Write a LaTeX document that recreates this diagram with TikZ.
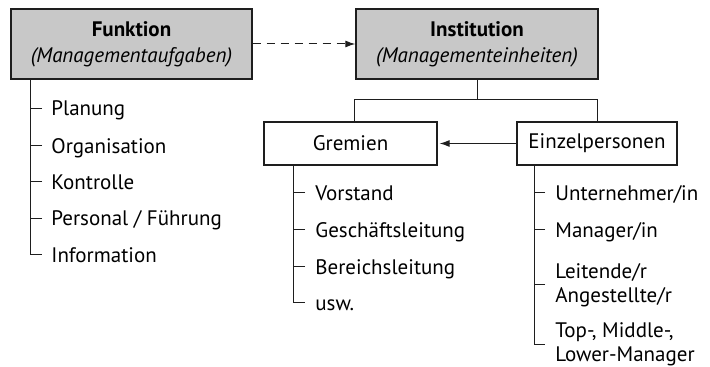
\documentclass[tikz,border=0pt]{standalone}
\usepackage{fontspec}
\setmainfont{PT Sans}
\usetikzlibrary{arrows.meta}
\definecolor{headfill}{RGB}{200,200,200}
\definecolor{linec}{RGB}{30,30,30}
\begin{document}
\begin{tikzpicture}[x=0.5pt,y=-0.5pt,
  font=\fontsize{10.5}{12}\selectfont,
  head/.style={draw=linec, line width=0.7pt, fill=headfill, minimum height=35pt, align=center, inner sep=0pt},
  unit/.style={draw=linec, line width=0.65pt, minimum height=21.5pt, inner sep=0pt},
  item/.style={anchor=west, inner sep=0pt, text height=7.6pt, text depth=0pt},
  item2/.style={anchor=west, inner sep=0pt, align=left},
  wire/.style={draw=linec, line width=0.5pt},
  tip/.style={-{Latex[length=5pt,width=3.5pt]}}
]
\useasboundingbox (0,0) rectangle (710,367);

% top level: function and institution
\node[head, minimum width=120.5pt] (fkt) at (131.5,44) {\textbf{Funktion}\\[1pt]\textit{(Managementaufgaben)}};
\node[head, minimum width=121pt] (inst) at (477,44) {\textbf{Institution}\\[1pt]\textit{(Managementeinheiten)}};

% management units
\node[unit, minimum width=86.5pt] (grem) at (350.5,143.5) {Gremien};
\node[unit, minimum width=80pt] (einz) at (597,143.5) {Einzelpersonen};

\draw[wire, dash pattern=on 4pt off 3pt, tip] (fkt.east) -- (inst.west);

\coordinate (hub) at (477,100);
\draw[wire] (inst.south) -- (hub);
\draw[wire] ([xshift=1.75pt]grem.north) -- ([xshift=1.75pt]grem.north |- hub) -- (einz.north |- hub) -- (einz.north);
\draw[wire, tip, shorten >=1pt] (einz.west) -- (grem.east);

% tasks of management
\node[item] (f1) at (51,108.3) {Planung};
\node[item] (f2) at (51,145.7) {Organisation};
\node[item] (f3) at (51,181.7) {Kontrolle};
\node[item] (f4) at (51,218.3) {Personal / Führung};
\node[item] (f5) at (51,255) {Information};
\draw[wire] ([xshift=10pt]fkt.south west) |- ([xshift=-4.5pt]f5.west);
\foreach \n in {f1,f2,f3,f4}
  \draw[wire] ([xshift=-4.5pt]\n.west) -- ++(-11,0);

% boards
\node[item] (g1) at (315,193) {Vorstand};
\node[item] (g2) at (315,230) {Geschäftsleitung};
\node[item] (g3) at (315,267) {Bereichsleitung};
\node[item] (g4) at (315,303) {usw.};
\draw[wire] ([xshift=15pt]grem.south west) |- ([xshift=-5pt]g4.west);
\foreach \n in {g1,g2,g3}
  \draw[wire] ([xshift=-5pt]\n.west) -- ++(-11,0);

% individuals
\node[item] (e1) at (555,193) {Unternehmer/in};
\node[item] (e2) at (555,230) {Manager/in};
\node[item2] (e3) at (555,285) {Leitende/r\\Angestellte/r};
\node[item2] (e4) at (555,344) {Top-, Middle-,\\Lower-Manager};
\draw[wire] ([xshift=9pt]einz.south west) |- ([xshift=-5pt]e4.west);
\foreach \n in {e1,e2,e3}
  \draw[wire] ([xshift=-5pt]\n.west) -- ++(-10,0);
\end{tikzpicture}
\end{document}
